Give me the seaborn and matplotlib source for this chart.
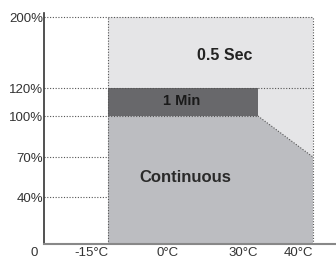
import numpy as np
import matplotlib
matplotlib.use("Agg")
import matplotlib.pyplot as plt
import seaborn as sns

# ---- data ----
temps = [-15, 0, 30, 40]                 # ambient temperature ticks
temp_labels = ["-15°C", "0°C", "30°C", "40°C"]
load_ticks = [40, 70, 100, 120, 200]     # load levels (%)
load_labels = ["40%", "70%", "100%", "120%", "200%"]

# derating zones: (temperature, load %)
cont_t = [-15, -15, 30, 40, 40]
cont_l = [0, 100, 100, 70, 0]
min1_t = [-15, 30]
min1_l = (100, 120)
sec_t = [-15, 40]
sec_l = (0, 200)

# ---- schematic (non-linear) axis scales ----
x_knots = [-28.5, -15, 0, 30, 40, 44.2]
x_pos = [0, 64, 135, 214, 269, 292]
y_knots = [0, 40, 70, 100, 120, 204.5]
y_pos = [0, 47, 87, 128, 156, 231]

def make_scale(knots, pos):
    def fwd(v):
        return np.interp(v, knots, pos)
    def inv(p):
        return np.interp(p, pos, knots)
    return fwd, inv

sns.set_theme(style="white")
plt.rcParams["font.family"] = ["Liberation Sans", "DejaVu Sans"]

fig = plt.figure(figsize=(3.36, 2.61), dpi=100)
ax = fig.add_axes([0.131, 0.065, 0.869, 0.885])
ax.set_xscale("function", functions=make_scale(x_knots, x_pos))
ax.set_yscale("function", functions=make_scale(y_knots, y_pos))
ax.set_xlim(x_knots[0], x_knots[-1])
ax.set_ylim(y_knots[0], y_knots[-1])

light, mid, dark = "#e5e5e7", "#bcbdc1", "#68686b"
ax.fill_between(sec_t, *sec_l, color=light, lw=0)
ax.fill(cont_t, cont_l, color=mid, lw=0)
ax.fill_between(min1_t, *min1_l, color=dark, lw=0)

# dotted guides
dot = dict(color="#555555", lw=0.8, ls=(0, (1, 1.5)))
for lv in [200, 120]:
    ax.plot([x_knots[0], 40], [lv, lv], **dot)
ax.plot([x_knots[0], 30], [100, 100], **dot)
for lv in [70, 40]:
    ax.plot([x_knots[0], -15], [lv, lv], **dot)
for t in [-15, 40]:
    ax.plot([t, t], [0, 200], **dot)
ax.plot([30, 40], [100, 70], **dot)

ax.text(17.5, 157, "0.5 Sec", ha="center", va="center", fontsize=11.5,
        fontweight="bold", color="#222222")
ax.text(1, 111, "1 Min", ha="center", va="center", fontsize=10.5,
        fontweight="bold", color="#1a1a1a")
ax.text(2.3, 55, "Continuous", ha="center", va="center", fontsize=12,
        fontweight="bold", color="#2a2a2a")

ax.set_xticks(temps)
ax.set_xticklabels(temp_labels, ha="right", fontsize=9.5, color="#333333")
ax.set_yticks(load_ticks)
ax.set_yticklabels(load_labels, fontsize=9.5, color="#333333")
ax.tick_params(axis="both", length=0)
ax.tick_params(axis="x", pad=2)
ax.tick_params(axis="y", pad=0.5)
ax.text(-0.02, -0.04, "0", transform=ax.transAxes, ha="right", va="center",
        fontsize=9.5, color="#333333")

sns.despine(ax=ax, top=True, right=True)
ax.spines["left"].set_color("#333333")
ax.spines["left"].set_linewidth(1.2)
ax.spines["bottom"].set_color("#888888")
ax.spines["bottom"].set_linewidth(1.5)
ax.grid(False)

fig.savefig("out.png", dpi=100)
